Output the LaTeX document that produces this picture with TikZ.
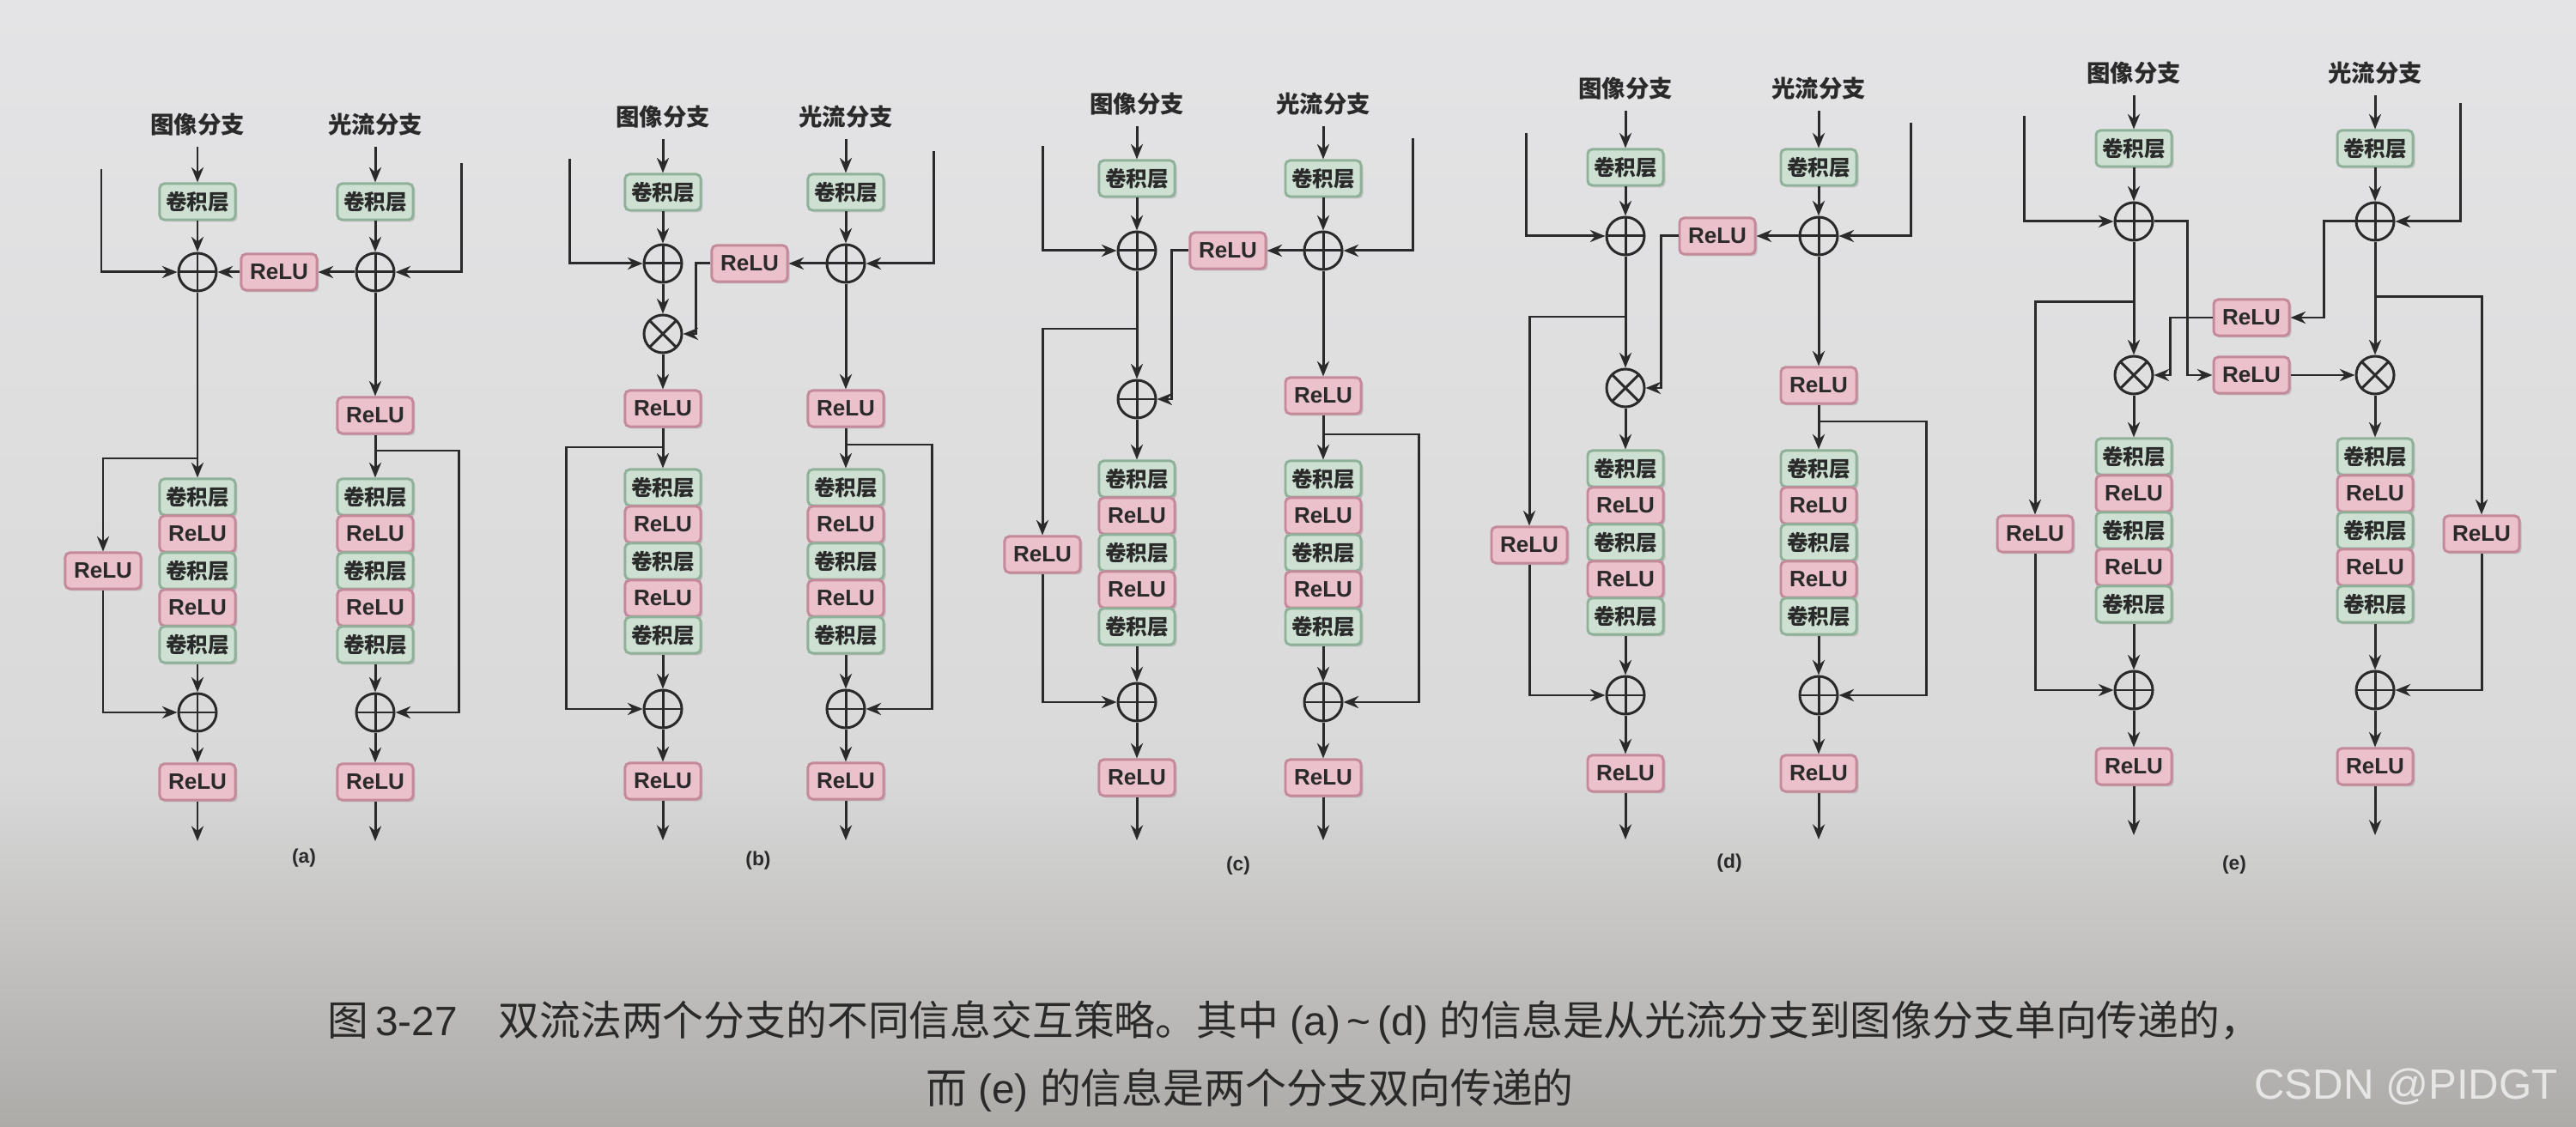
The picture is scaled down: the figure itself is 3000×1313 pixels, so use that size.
\documentclass[tikz,border=0pt]{standalone}
\usepackage{fontspec}
\setmainfont{Liberation Sans}
\newfontfamily\cjk{Noto Sans CJK SC}
\usetikzlibrary{arrows.meta,shadows}
\definecolor{convbg}{HTML}{CDE0D2}
\definecolor{convline}{HTML}{8FB199}
\definecolor{relubg}{HTML}{EBC1CB}
\definecolor{reluline}{HTML}{C4899A}
\definecolor{ink}{HTML}{2A2A2A}
\definecolor{bgtop}{HTML}{E4E4E6}
\definecolor{bgmid}{HTML}{D9D9D9}
\definecolor{bgbot}{HTML}{ADABA8}
\definecolor{markfg}{HTML}{E6E6E6}

\begin{document}
\begin{tikzpicture}[x=0.01cm, y=-0.01cm, >={Stealth[length=5pt,width=4pt]}, line width=0.85pt, color=ink,
  conv/.style={draw=convline, fill=convbg, rounded corners=1.5pt, minimum width=0.88cm, minimum height=0.42cm, inner sep=0pt, text=ink, font=\cjk\bfseries\fontsize{7pt}{7pt}\selectfont, drop shadow={shadow xshift=0.7pt, shadow yshift=-0.7pt, opacity=0.3}},
  relu/.style={conv, draw=reluline, fill=relubg, font=\bfseries\fontsize{7.4pt}{8pt}\selectfont},
  sumop/.style={circle, draw=ink, minimum size=0.44cm, inner sep=0pt, path picture={\draw[ink] (path picture bounding box.north) -- (path picture bounding box.south) (path picture bounding box.west) -- (path picture bounding box.east);}},
  mulop/.style={circle, draw=ink, minimum size=0.44cm, inner sep=0pt, path picture={\draw[ink] (path picture bounding box.north west) -- (path picture bounding box.south east) (path picture bounding box.north east) -- (path picture bounding box.south west);}},
  lbl/.style={text=ink, font=\cjk\bfseries\fontsize{7.8pt}{8pt}\selectfont},
  sub/.style={text=ink, font=\bfseries\fontsize{6.5pt}{7pt}\selectfont}]

  % paper
  \useasboundingbox (0,0) rectangle (3000,1313);
  \shade[top color=bgtop, bottom color=bgmid] (0,0) rectangle (3000,900);
  \shade[top color=bgmid, bottom color=bgbot] (0,900) rectangle (3000,1313);

  % ===== (a) =====
  \node[lbl] (aimglab) at (230,145) {图像分支};
  \node[lbl] (aflowlab) at (437,145) {光流分支};
  \node[conv] (aimgconv) at (230,235) {卷积层};
  \node[conv] (aflowconv) at (437,235) {卷积层};
  \node[sumop] (aimgsum) at (230,317) {};
  \node[sumop] (aflowsum) at (437,317) {};
  \node[relu] (amid) at (325,317) {ReLU};
  \node[relu] (aflowrelu) at (437,484) {ReLU};
  \node[relu] (aside) at (120,665) {ReLU};
  \foreach \k/\s/\w in {1/conv/卷积层,2/relu/ReLU,3/conv/卷积层,4/relu/ReLU,5/conv/卷积层}{
    \node[\s] (aimg\k) at (230,536+43*\k) {\w};
    \node[\s] (aflow\k) at (437,536+43*\k) {\w};
  }
  \node[sumop] (aimgout) at (230,830) {};
  \node[sumop] (aflowout) at (437,830) {};
  \node[relu] (aimgend) at (230,911) {ReLU};
  \node[relu] (aflowend) at (437,911) {ReLU};
  \node[sub] (acap) at (354,1000) {(a)};
  \coordinate (ainl) at (118,197);
  \coordinate (ainr) at (537,190);
  \coordinate (asplit) at (230,534);
  \coordinate (aloop) at (437,525);
  \coordinate (aimgexit) at (230,980);
  \coordinate (aflowexit) at (437,980);

  \draw[->] (aimglab) -- (aimgconv);
  \draw[->] (aflowlab) -- (aflowconv);
  \draw[->] (aimgconv) -- (aimgsum);
  \draw[->] (aflowconv) -- (aflowsum);
  \draw[->] (ainl) |- (aimgsum);
  \draw[->] (ainr) |- (aflowsum);
  \draw[->] (aflowsum) -- (amid);
  \draw[->] (amid) -- (aimgsum);
  \draw[->] (aimgsum) -- (aimg1);
  \draw[->] (asplit) -| (aside);
  \draw[->] (aside) |- (aimgout);
  \draw[->] (aimg5) -- (aimgout);
  \draw[->] (aimgout) -- (aimgend);
  \draw[->] (aimgend) -- (aimgexit);
  \draw[->] (aflowsum) -- (aflowrelu);
  \draw[->] (aflowrelu) -- (aflow1);
  \draw[->] (aloop) -- ++(97,0) |- (aflowout);
  \draw[->] (aflow5) -- (aflowout);
  \draw[->] (aflowout) -- (aflowend);
  \draw[->] (aflowend) -- (aflowexit);

  % ===== (b) =====
  \node[lbl] (bimglab) at (772,136) {图像分支};
  \node[lbl] (bflowlab) at (985,136) {光流分支};
  \node[conv] (bimgconv) at (772,224) {卷积层};
  \node[conv] (bflowconv) at (985,224) {卷积层};
  \node[sumop] (bimgsum) at (772,307) {};
  \node[sumop] (bflowsum) at (985,307) {};
  \node[relu] (bmid) at (873,307) {ReLU};
  \node[mulop] (bmul) at (772,389) {};
  \node[relu] (bimgrelu) at (772,476) {ReLU};
  \node[relu] (bflowrelu) at (985,476) {ReLU};
  \foreach \k/\s/\w in {1/conv/卷积层,2/relu/ReLU,3/conv/卷积层,4/relu/ReLU,5/conv/卷积层}{
    \node[\s] (bimg\k) at (772,525+43*\k) {\w};
    \node[\s] (bflow\k) at (985,525+43*\k) {\w};
  }
  \node[sumop] (bimgout) at (772,826) {};
  \node[sumop] (bflowout) at (985,826) {};
  \node[relu] (bimgend) at (772,910) {ReLU};
  \node[relu] (bflowend) at (985,910) {ReLU};
  \node[sub] (bcap) at (883,1003) {(b)};
  \coordinate (binl) at (663,185);
  \coordinate (binr) at (1087,176);
  \coordinate (bsplit) at (772,521);
  \coordinate (bloop) at (985,518);
  \coordinate (bimgexit) at (772,979);
  \coordinate (bflowexit) at (985,979);

  \draw[->] (bimglab) -- (bimgconv);
  \draw[->] (bflowlab) -- (bflowconv);
  \draw[->] (bimgconv) -- (bimgsum);
  \draw[->] (bflowconv) -- (bflowsum);
  \draw[->] (binl) |- (bimgsum);
  \draw[->] (binr) |- (bflowsum);
  \draw[->] (bflowsum) -- (bmid);
  \draw[->] (bmid.west) -- ++(-17,0) |- (bmul);
  \draw[->] (bimgsum) -- (bmul);
  \draw[->] (bmul) -- (bimgrelu);
  \draw[->] (bimgrelu) -- (bimg1);
  \draw[->] (bsplit) -- ++(-113,0) |- (bimgout);
  \draw[->] (bimg5) -- (bimgout);
  \draw[->] (bimgout) -- (bimgend);
  \draw[->] (bimgend) -- (bimgexit);
  \draw[->] (bflowsum) -- (bflowrelu);
  \draw[->] (bflowrelu) -- (bflow1);
  \draw[->] (bloop) -- ++(100,0) |- (bflowout);
  \draw[->] (bflow5) -- (bflowout);
  \draw[->] (bflowout) -- (bflowend);
  \draw[->] (bflowend) -- (bflowexit);

  % ===== (c) =====
  \node[lbl] (cimglab) at (1324,121) {图像分支};
  \node[lbl] (cflowlab) at (1541,121) {光流分支};
  \node[conv] (cimgconv) at (1324,208) {卷积层};
  \node[conv] (cflowconv) at (1541,208) {卷积层};
  \node[sumop] (cimgsum) at (1324,292) {};
  \node[sumop] (cflowsum) at (1541,292) {};
  \node[relu] (cmid) at (1430,292) {ReLU};
  \node[sumop] (cjoin) at (1324,465) {};
  \node[relu] (cside) at (1214,646) {ReLU};
  \node[relu] (cflowrelu) at (1541,461) {ReLU};
  \foreach \k/\s/\w in {1/conv/卷积层,2/relu/ReLU,3/conv/卷积层,4/relu/ReLU,5/conv/卷积层}{
    \node[\s] (cimg\k) at (1324,515+43*\k) {\w};
    \node[\s] (cflow\k) at (1541,515+43*\k) {\w};
  }
  \node[sumop] (cimgout) at (1324,818) {};
  \node[sumop] (cflowout) at (1541,818) {};
  \node[relu] (cimgend) at (1324,906) {ReLU};
  \node[relu] (cflowend) at (1541,906) {ReLU};
  \node[sub] (ccap) at (1442,1009) {(c)};
  \coordinate (cinl) at (1214,170);
  \coordinate (cinr) at (1645,161);
  \coordinate (csplit) at (1324,383);
  \coordinate (cloop) at (1541,506);
  \coordinate (cimgexit) at (1324,979);
  \coordinate (cflowexit) at (1541,979);

  \draw[->] (cimglab) -- (cimgconv);
  \draw[->] (cflowlab) -- (cflowconv);
  \draw[->] (cimgconv) -- (cimgsum);
  \draw[->] (cflowconv) -- (cflowsum);
  \draw[->] (cinl) |- (cimgsum);
  \draw[->] (cinr) |- (cflowsum);
  \draw[->] (cflowsum) -- (cmid);
  \draw[->] (cmid.west) -- ++(-20,0) |- (cjoin);
  \draw[->] (cimgsum) -- (cjoin);
  \draw[->] (cjoin) -- (cimg1);
  \draw[->] (csplit) -| (cside);
  \draw[->] (cside) |- (cimgout);
  \draw[->] (cimg5) -- (cimgout);
  \draw[->] (cimgout) -- (cimgend);
  \draw[->] (cimgend) -- (cimgexit);
  \draw[->] (cflowsum) -- (cflowrelu);
  \draw[->] (cflowrelu) -- (cflow1);
  \draw[->] (cloop) -- ++(111,0) |- (cflowout);
  \draw[->] (cflow5) -- (cflowout);
  \draw[->] (cflowout) -- (cflowend);
  \draw[->] (cflowend) -- (cflowexit);

  % ===== (d) =====
  \node[lbl] (dimglab) at (1893,103) {图像分支};
  \node[lbl] (dflowlab) at (2118,103) {光流分支};
  \node[conv] (dimgconv) at (1893,195) {卷积层};
  \node[conv] (dflowconv) at (2118,195) {卷积层};
  \node[sumop] (dimgsum) at (1893,275) {};
  \node[sumop] (dflowsum) at (2118,275) {};
  \node[relu] (dmid) at (2000,275) {ReLU};
  \node[mulop] (dmul) at (1893,452) {};
  \node[relu] (dside) at (1781,635) {ReLU};
  \node[relu] (dflowrelu) at (2118,449) {ReLU};
  \foreach \k/\s/\w in {1/conv/卷积层,2/relu/ReLU,3/conv/卷积层,4/relu/ReLU,5/conv/卷积层}{
    \node[\s] (dimg\k) at (1893,503+43*\k) {\w};
    \node[\s] (dflow\k) at (2118,503+43*\k) {\w};
  }
  \node[sumop] (dimgout) at (1893,810) {};
  \node[sumop] (dflowout) at (2118,810) {};
  \node[relu] (dimgend) at (1893,901) {ReLU};
  \node[relu] (dflowend) at (2118,901) {ReLU};
  \node[sub] (dcap) at (2014,1006) {(d)};
  \coordinate (dinl) at (1777,155);
  \coordinate (dinr) at (2225,143);
  \coordinate (dsplit) at (1893,369);
  \coordinate (dloop) at (2118,491);
  \coordinate (dimgexit) at (1893,978);
  \coordinate (dflowexit) at (2118,978);

  \draw[->] (dimglab) -- (dimgconv);
  \draw[->] (dflowlab) -- (dflowconv);
  \draw[->] (dimgconv) -- (dimgsum);
  \draw[->] (dflowconv) -- (dflowsum);
  \draw[->] (dinl) |- (dimgsum);
  \draw[->] (dinr) |- (dflowsum);
  \draw[->] (dflowsum) -- (dmid);
  \draw[->] (dmid.west) -- ++(-20,0) |- (dmul);
  \draw[->] (dimgsum) -- (dmul);
  \draw[->] (dmul) -- (dimg1);
  \draw[->] (dsplit) -| (dside);
  \draw[->] (dside) |- (dimgout);
  \draw[->] (dimg5) -- (dimgout);
  \draw[->] (dimgout) -- (dimgend);
  \draw[->] (dimgend) -- (dimgexit);
  \draw[->] (dflowsum) -- (dflowrelu);
  \draw[->] (dflowrelu) -- (dflow1);
  \draw[->] (dloop) -- ++(125,0) |- (dflowout);
  \draw[->] (dflow5) -- (dflowout);
  \draw[->] (dflowout) -- (dflowend);
  \draw[->] (dflowend) -- (dflowexit);

  % ===== (e) =====
  \node[lbl] (eimglab) at (2485,85) {图像分支};
  \node[lbl] (eflowlab) at (2766,85) {光流分支};
  \node[conv] (eimgconv) at (2485,173) {卷积层};
  \node[conv] (eflowconv) at (2766,173) {卷积层};
  \node[sumop] (eimgsum) at (2485,258) {};
  \node[sumop] (eflowsum) at (2766,258) {};
  \node[relu] (eupper) at (2622,370) {ReLU};
  \node[relu] (elower) at (2622,437) {ReLU};
  \node[mulop] (eimgmul) at (2485,437) {};
  \node[mulop] (eflowmul) at (2766,437) {};
  \node[relu] (eimgside) at (2370,622) {ReLU};
  \node[relu] (eflowside) at (2890,622) {ReLU};
  \foreach \k/\s/\w in {1/conv/卷积层,2/relu/ReLU,3/conv/卷积层,4/relu/ReLU,5/conv/卷积层}{
    \node[\s] (eimg\k) at (2485,489+43*\k) {\w};
    \node[\s] (eflow\k) at (2766,489+43*\k) {\w};
  }
  \node[sumop] (eimgout) at (2485,804) {};
  \node[sumop] (eflowout) at (2766,804) {};
  \node[relu] (eimgend) at (2485,893) {ReLU};
  \node[relu] (eflowend) at (2766,893) {ReLU};
  \node[sub] (ecap) at (2602,1008) {(e)};
  \coordinate (einl) at (2357,135);
  \coordinate (einr) at (2865,120);
  \coordinate (eimgsplit) at (2485,352);
  \coordinate (eflowsplit) at (2766,346);
  \coordinate (eimgexit) at (2485,973);
  \coordinate (eflowexit) at (2766,973);

  \draw[->] (eimglab) -- (eimgconv);
  \draw[->] (eflowlab) -- (eflowconv);
  \draw[->] (eimgconv) -- (eimgsum);
  \draw[->] (eflowconv) -- (eflowsum);
  \draw[->] (einl) |- (eimgsum);
  \draw[->] (einr) |- (eflowsum);
  % cross exchange
  \draw[->] (eimgsum.east) -- ++(39,0) |- (elower);
  \draw[->] (eflowsum.west) -- ++(-36,0) |- (eupper);
  \draw[->] (eupper.west) -- ++(-49,0) |- (eimgmul);
  \draw[->] (elower) -- (eflowmul);
  \draw[->] (eimgsum) -- (eimgmul);
  \draw[->] (eflowsum) -- (eflowmul);
  \draw[->] (eimgmul) -- (eimg1);
  \draw[->] (eflowmul) -- (eflow1);
  \draw[->] (eimgsplit) -| (eimgside);
  \draw[->] (eflowsplit) -| (eflowside);
  \draw[->] (eimgside) |- (eimgout);
  \draw[->] (eflowside) |- (eflowout);
  \draw[->] (eimg5) -- (eimgout);
  \draw[->] (eflow5) -- (eflowout);
  \draw[->] (eimgout) -- (eimgend);
  \draw[->] (eflowout) -- (eflowend);
  \draw[->] (eimgend) -- (eimgexit);
  \draw[->] (eflowend) -- (eflowexit);

  % caption
  \node[anchor=west, text=ink, font=\fontsize{13.6pt}{15pt}\selectfont] (capone) at (368,1191) {{\cjk 图}\,3-27\quad{\cjk 双流法两个分支的不同信息交互策略。其中} (a)\,\textasciitilde\,(d) {\cjk 的信息是从光流分支到图像分支单向传递的，}};
  \node[anchor=west, text=ink, font=\fontsize{13.6pt}{15pt}\selectfont] (captwo) at (1065,1270) {{\cjk 而} (e) {\cjk 的信息是两个分支双向传递的}};
  \node[anchor=base west, text=markfg, font=\fontsize{14pt}{14pt}\selectfont] (mark) at (2612,1280) {CSDN @PIDGT};
\end{tikzpicture}
\end{document}
